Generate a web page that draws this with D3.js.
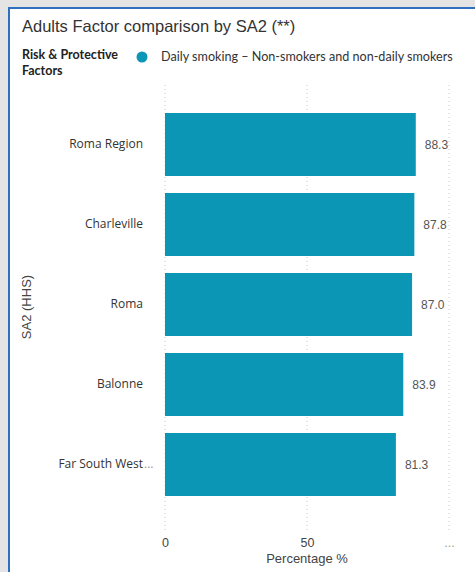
<!DOCTYPE html>
<html>
<head>
<meta charset="utf-8">
<script src="https://cdn.jsdelivr.net/npm/d3@7"></script>
<style>
  html, body { margin: 0; padding: 0; background: #fff; }
  svg { display: block; }
</style>
</head>
<body>
<script>
// Data
const categories = ["Roma Region", "Charleville", "Roma", "Balonne", "Far South West..."];
const values = [88.3, 87.8, 87.0, 83.9, 81.3];
const tickValues = [0, 50, 100];
const tickLabels = ["0", "50", "..."];
const seriesName = "Daily smoking \u2013 Non-smokers and non-daily smokers";

const W = 475, H = 572;
const barColor = "#0a96b4";

const svg = d3.select("body").append("svg")
  .attr("width", W).attr("height", H);

// Outer page band and visual frame
svg.append("rect").attr("x", 0).attr("y", 0).attr("width", W).attr("height", H).attr("fill", "#e4e4e4");
svg.append("rect").attr("x", 8).attr("y", 7).attr("width", W - 8).attr("height", H - 7).attr("fill", "#d6e4f2");
svg.append("rect").attr("x", 10).attr("y", 9).attr("width", W - 10).attr("height", H - 9).attr("fill", "#fff");
svg.append("line").attr("x1", 9).attr("x2", 9).attr("y1", 8).attr("y2", H)
  .attr("stroke", "#2f6fc0").attr("stroke-width", 2);
svg.append("line").attr("x1", 8).attr("x2", W).attr("y1", 8).attr("y2", 8)
  .attr("stroke", "#2f6fc0").attr("stroke-width", 2);

// Title
svg.append("text")
  .attr("x", 22).attr("y", 32)
  .attr("font-family", "'Liberation Sans', Arial, sans-serif")
  .attr("font-size", 16.5).attr("fill", "#333")
  .text("Adults Factor comparison by SA2 (**)");

// Legend
const legend = svg.append("g");
legend.append("text")
  .attr("x", 22).attr("y", 59)
  .attr("font-family", "Lato, sans-serif").attr("font-weight", "bold")
  .attr("font-size", 12.5).attr("fill", "#222")
  .text("Risk & Protective");
legend.append("text")
  .attr("x", 22).attr("y", 75)
  .attr("font-family", "Lato, sans-serif").attr("font-weight", "bold")
  .attr("font-size", 12.5).attr("fill", "#222")
  .text("Factors");
legend.append("circle")
  .attr("cx", 142).attr("cy", 57).attr("r", 5.5).attr("fill", barColor);
legend.append("text")
  .attr("x", 161).attr("y", 61)
  .attr("font-family", "Lato, sans-serif")
  .attr("font-size", 12.6).attr("fill", "#333")
  .text(seriesName);

// Scales
const x = d3.scaleLinear().domain([0, 100]).range([165, 449]);
const y = d3.scaleBand().domain(categories).range([104.5, 504.5]).paddingInner(0.2125).paddingOuter(0.10625);

// Gridlines
svg.append("g").selectAll("line").data(tickValues).join("line")
  .attr("x1", d => x(d)).attr("x2", d => x(d))
  .attr("y1", 85).attr("y2", 530)
  .attr("stroke", "#c8c8c8").attr("stroke-width", 1)
  .attr("stroke-dasharray", "1,3");

// Bars
svg.append("g").selectAll("rect").data(values).join("rect")
  .attr("x", x(0))
  .attr("y", (d, i) => y(categories[i]))
  .attr("width", d => x(d) - x(0))
  .attr("height", y.bandwidth())
  .attr("fill", barColor);

// Value labels
svg.append("g").selectAll("text").data(values).join("text")
  .attr("x", d => x(d) + 9)
  .attr("y", (d, i) => y(categories[i]) + y.bandwidth() / 2)
  .attr("dy", "0.35em")
  .attr("font-family", "'Liberation Sans', Arial, sans-serif")
  .attr("font-size", 12).attr("fill", "#555")
  .text(d => d.toFixed(1));

// Category axis: truncated names keep their ellipsis past the label edge
const labelX = 143;
const yAxis = svg.append("g")
  .attr("transform", `translate(${labelX},0)`)
  .call(d3.axisLeft(y).tickSize(0).tickPadding(0)
    .tickFormat(d => d.endsWith("...") ? d.slice(0, -3) : d));
yAxis.select(".domain").remove();
yAxis.selectAll("text")
  .attr("font-family", "'Open Sans', sans-serif")
  .attr("font-size", 12).attr("fill", "#333");
yAxis.selectAll(".tick").filter(d => d.endsWith("..."))
  .append("text")
  .attr("x", 1).attr("dy", "0.32em")
  .attr("text-anchor", "start")
  .attr("font-family", "'Open Sans', sans-serif")
  .attr("font-size", 12).attr("fill", "#999")
  .text("...");

// Value axis
const xAxis = svg.append("g")
  .attr("transform", `translate(0,538)`)
  .call(d3.axisBottom(x).tickValues(tickValues).tickSize(0).tickPadding(0)
    .tickFormat((d, i) => tickLabels[i]));
xAxis.select(".domain").remove();
xAxis.selectAll("text")
  .attr("font-family", "'Liberation Sans', Arial, sans-serif")
  .attr("font-size", 12.5)
  .attr("fill", (d, i) => i === 2 ? "#999" : "#444");

// Axis titles
svg.append("text")
  .attr("x", x(50)).attr("y", 563)
  .attr("text-anchor", "middle")
  .attr("font-family", "'Liberation Sans', Arial, sans-serif")
  .attr("font-size", 13).attr("fill", "#444")
  .text("Percentage %");
svg.append("text")
  .attr("transform", "translate(31,307) rotate(-90)")
  .attr("text-anchor", "middle")
  .attr("font-family", "'Liberation Sans', Arial, sans-serif")
  .attr("font-size", 13).attr("fill", "#444")
  .text("SA2 (HHS)");
</script>
</body>
</html>
